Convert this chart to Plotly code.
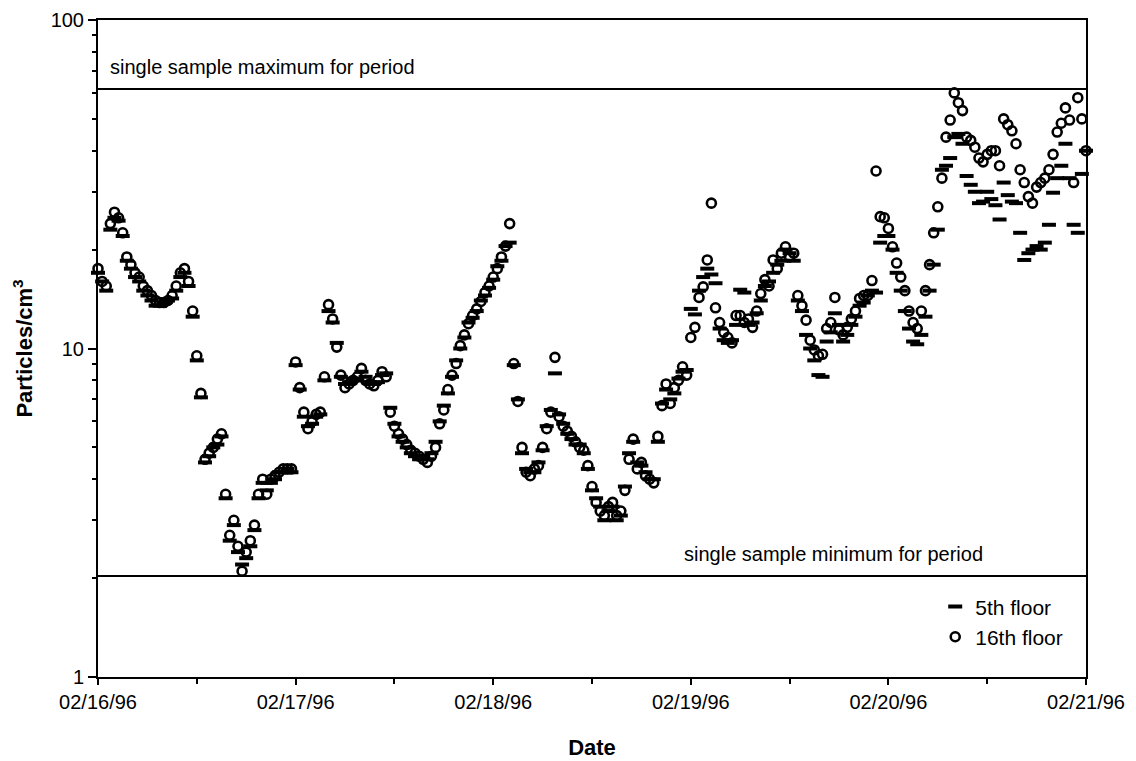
import plotly.graph_objects as go
import pandas as pd

# sample times: every 30 minutes from 02/16/96 00:00 to 02/21/96 00:00
times = pd.date_range("1996-02-16 00:00", periods=241, freq="30min")

# 16th floor particle concentration (particles/cm3)
floor16 = [
    17.5, 16, 15.5, 24, 26, 25, 22.5, 19, 18, 17, 16.5, 15.5, 15, 14.5, 14, 13.8,
    13.8, 14, 14.5, 15.5, 17, 17.5, 16, 13, 9.5, 7.3, 4.6, 4.8, 5.0, 5.3, 5.5, 3.6,
    2.7, 3.0, 2.5, 2.1, 2.4, 2.6, 2.9, 3.6, 4.0, 3.6, 4.0, 4.1, 4.2, 4.3, 4.3, 4.3,
    9.1, 7.6, 6.4, 5.7, 6.0, 6.3, 6.4, 8.2, 13.6, 12.3, 10.1, 8.3, 7.6, 7.8, 8.0, 8.2,
    8.7, 8.0, 7.8, 7.7, 8.0, 8.5, 8.2, 6.4, 5.8, 5.5, 5.3, 5.1, 4.9, 4.8, 4.7, 4.6,
    4.5, 4.7, 5.0, 5.9, 6.5, 7.5, 8.3, 9.0, 10.2, 11.0, 11.9, 12.6, 13.2, 13.9, 14.8, 15.5,
    16.5, 17.5, 19, 20.5, 24, 9.0, 6.9, 5.0, 4.2, 4.1, 4.3, 4.4, 5.0, 5.7, 6.4, 9.4,
    6.2, 5.8, 5.6, 5.4, 5.2, 5.0, 4.9, 4.4, 3.8, 3.4, 3.2, 3.1, 3.3, 3.4, 3.1, 3.2,
    3.7, 4.6, 5.3, 4.3, 4.5, 4.1, 4.0, 3.9, 5.4, 6.7, 7.8, 6.8, 7.6, 8.0, 8.8, 8.3,
    10.8, 11.6, 14.3, 15.4, 18.6, 27.7, 13.3, 12.0, 11.2, 10.8, 10.4, 12.6, 12.6, 12.0, 12.3, 11.6,
    13.0, 14.7, 16.2, 15.5, 18.6, 17.5, 19.5, 20.4, 19.0, 19.5, 14.5, 13.5, 12.2, 10.6, 9.9, 9.5,
    9.6, 11.5, 12.0, 14.3, 11.4, 11.0, 11.6, 12.3, 13.0, 14.2, 14.5, 14.5, 16.1, 34.7, 25.2, 25.0,
    23.2, 20.4, 18.2, 16.5, 15.0, 13.0, 12.0, 11.5, 13, 15, 18, 22.5, 27, 33, 44, 49.6,
    60, 56, 53, 44, 43, 41, 38, 37, 39, 40, 40, 36, 50, 48, 46, 42,
    35, 32, 29, 27.7, 31, 32, 33, 35, 39, 45.6, 48.5, 54, 49.6, 32, 58, 50,
    40,
]

# 5th floor particle concentration (particles/cm3)
floor5 = [
    17, 16, 15, 23, 25, 24.5, 22, 18.5, 17.5, 16.5, 16, 15, 14.5, 14, 13.5, 13.5,
    13.8, 14, 14.2, 15, 16.5, 17, 15.5, 12.5, 9.2, 7.1, 4.5, 4.7, 5.0, 5.1, 5.4, 3.5,
    2.6, 2.9, 2.4, 2.2, 2.3, 2.5, 2.8, 3.5, 3.9, 3.7, 3.9, 4.0, 4.2, 4.2, 4.3, 4.2,
    8.9, 7.5, 6.2, 5.8, 5.9, 6.2, 6.3, 8.0, 13.0, 12.0, 10.4, 8.2, 7.8, 7.9, 8.1, 8.0,
    8.5, 8.2, 7.9, 7.8, 7.9, 8.3, 8.4, 6.6, 5.9, 5.4, 5.2, 5.0, 4.8, 4.7, 4.6, 4.7,
    4.6, 4.8, 5.2, 6.0, 6.7, 7.3, 8.2, 9.2, 10.0, 10.8, 12.0, 12.4, 13.0, 14.0, 14.5, 15.3,
    16.2, 17.8, 18.5, 20.5, 21, 8.9, 7.0, 4.8, 4.3, 4.2, 4.2, 4.5, 4.9, 5.8, 6.5, 8.4,
    6.3, 5.9, 5.5, 5.3, 5.1, 5.1, 4.8, 4.3, 3.7, 3.5, 3.3, 3.0, 3.2, 3.3, 3.0, 3.1,
    3.8, 4.8, 5.2, 4.5, 4.4, 4.2, 4.0, 4.0, 5.2, 6.8, 7.5, 7.0, 7.3, 8.1, 8.5, 8.6,
    13.2, 12.7, 15.0, 16.5, 17.5, 16.8, 15.8, 11.5, 10.6, 10.4, 10.6, 11.8, 15.1, 14.8, 11.8, 12.0,
    12.8, 14.0, 15.5, 16.0, 17.0, 18.0, 18.5, 20.0, 19.5, 18.5, 14.0, 13.0, 11.0, 10.0, 9.2, 8.3,
    8.2, 10.5, 11.2, 12.8, 11.8, 10.5, 11.0, 11.8, 12.5, 13.5, 13.8, 14.5, 15.0, 14.8, 21, 22,
    22, 20, 17, 15, 13, 11.5, 10.5, 10.3, 11, 12.5, 15, 18, 23, 35, 36, 38,
    44, 45, 42, 33.5, 31.5, 30, 27.7, 28, 30, 28.5, 27.3, 24.7, 32, 29.3, 28, 27.7,
    22.5, 18.6, 19.5, 20, 20.5, 20, 21, 23.8, 29.8, 33, 36, 42, 33, 23.8, 22.5, 34,
    40,
]

y_max_line = 61.7
y_min_line = 2.03

x_tick_vals = pd.date_range("1996-02-16", "1996-02-21", freq="D")
y_tick_vals = [1, 10, 100]
y_minor_vals = [2, 3, 4, 5, 6, 7, 8, 9, 20, 30, 40, 50, 60, 70, 80, 90]

FONT = "Liberation Sans, Arial, sans-serif"

fig = go.Figure()
fig.add_trace(go.Scatter(
    x=times, y=floor5, mode="markers", name="5th floor",
    marker=dict(symbol="line-ew-open", size=10, color="black",
                line=dict(color="black", width=4)),
    cliponaxis=False,
))
fig.add_trace(go.Scatter(
    x=times, y=floor16, mode="markers", name="16th floor",
    marker=dict(symbol="circle-open", size=9, color="black",
                line=dict(color="black", width=2.6)),
    cliponaxis=False,
))

fig.add_shape(type="line", xref="paper", x0=0, x1=1, yref="y",
              y0=y_max_line, y1=y_max_line, line=dict(color="black", width=2))
fig.add_shape(type="line", xref="paper", x0=0, x1=1, yref="y",
              y0=y_min_line, y1=y_min_line, line=dict(color="black", width=2))

fig.add_annotation(text="single sample maximum for period", xref="paper", x=0.01,
                   xanchor="left", yref="y", y=1.857, yanchor="middle",
                   showarrow=False, font=dict(family=FONT, size=20, color="black"))
fig.add_annotation(text="single sample minimum for period", xref="paper", x=0.898,
                   xanchor="right", yref="y", y=0.375, yanchor="middle",
                   showarrow=False, font=dict(family=FONT, size=20, color="black"))

fig.update_xaxes(
    range=["1996-02-16 00:00", "1996-02-21 00:00"],
    tickvals=x_tick_vals, tickformat="%m/%d/%y",
    ticks="outside", ticklen=6, tickwidth=1.5, tickcolor="black",
    minor=dict(ticks="outside", ticklen=5, tickwidth=1.5, tickcolor="black",
               dtick=43200000, tick0="1996-02-16"),
    showline=True, linewidth=2, linecolor="black", mirror=True,
    showgrid=False, zeroline=False, automargin=False,
    tickfont=dict(family=FONT, size=20, color="black"),
    title=dict(text="<b>Date</b>", font=dict(family=FONT, size=22, color="black"),
               standoff=28),
)
fig.update_yaxes(
    type="log", range=[0, 2],
    tickvals=y_tick_vals, ticktext=["1", "10", "100"],
    ticks="outside", ticklen=8, tickwidth=1.5, tickcolor="black",
    minor=dict(ticks="outside", ticklen=4, tickwidth=1.5, tickcolor="black",
               tickvals=y_minor_vals),
    showline=True, linewidth=2, linecolor="black", mirror=True,
    showgrid=False, zeroline=False, automargin=False,
    tickfont=dict(family=FONT, size=20, color="black"),
    title=dict(text="<b>Particles/cm<sup>3</sup></b>",
               font=dict(family=FONT, size=22, color="black"), standoff=12),
)

fig.update_layout(
    width=1136, height=761,
    margin=dict(l=98, r=50, t=20, b=84),
    paper_bgcolor="white", plot_bgcolor="white",
    showlegend=True,
    legend=dict(x=0.982, y=0.03, xanchor="right", yanchor="bottom",
                bgcolor="rgba(0,0,0,0)", font=dict(family=FONT, size=21, color="black"),
                itemsizing="trace", tracegroupgap=0),
)

fig.write_html("out.html")
